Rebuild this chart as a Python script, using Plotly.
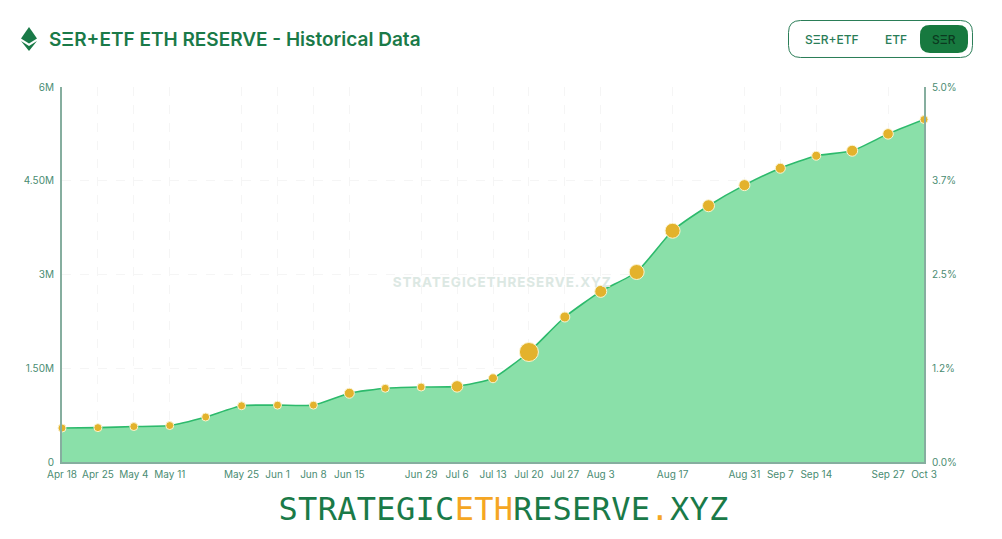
import plotly.graph_objects as go

# ---------- data ----------
dates = ["Apr 18", "Apr 25", "May 4", "May 11", "May 18", "May 25", "Jun 1", "Jun 8", "Jun 15",
         "Jun 22", "Jun 29", "Jul 6", "Jul 13", "Jul 20", "Jul 27", "Aug 3", "Aug 10", "Aug 17",
         "Aug 24", "Aug 31", "Sep 7", "Sep 14", "Sep 21", "Sep 27", "Oct 3"]
shown_dates = ["Apr 18", "Apr 25", "May 4", "May 11", "May 25", "Jun 1", "Jun 8", "Jun 15",
               "Jun 29", "Jul 6", "Jul 13", "Jul 20", "Jul 27", "Aug 3", "Aug 17", "Aug 31",
               "Sep 7", "Sep 14", "Sep 27", "Oct 3"]
reserve = [543000, 550000, 567000, 583000, 720000, 900000, 910000, 910000, 1100000,
           1180000, 1200000, 1210000, 1340000, 1760000, 2320000, 2730000, 3040000, 3700000,
           4100000, 4430000, 4700000, 4900000, 4980000, 5250000, 5480000]
pct_of_supply = [0.45, 0.46, 0.47, 0.49, 0.60, 0.75, 0.76, 0.76, 0.92,
                 0.98, 1.00, 1.01, 1.12, 1.47, 1.93, 2.28, 2.53, 3.08,
                 3.42, 3.69, 3.92, 4.08, 4.15, 4.38, 4.57]
bubble = [8, 8, 8, 8, 8, 8, 8, 8, 10, 8, 8, 11.5, 9, 19, 10, 12, 15, 15, 12, 11, 10, 9, 11, 10.5, 8]
left_ticks = [0, 1500000, 3000000, 4500000, 6000000]
left_labels = ["0", "1.50M", "3M", "4.50M", "6M"]
right_ticks = [0, 1.25, 2.5, 3.75, 5]
right_labels = ["0.0%", "1.2%", "2.5%", "3.7%", "5.0%"]

# ---------- geometry helpers for page furniture ----------
L, R, T, B = 62, 924, 87, 462
fx = lambda px: (px - L) / (R - L)
fy = lambda py: (B - py) / (B - T)
GREEN = "#1a7a48"
TICK = "#4a8c72"
AXIS = "#86ae9f"


def poly(points, **kw):
    path = "M " + " L ".join(f"{fx(x):.5f},{fy(y):.5f}" for x, y in points) + " Z"
    return dict(type="path", xref="paper", yref="paper", path=path, **kw)


def rrect(x0, y0, x1, y1, r):
    a, b, c, d = fx(x0), fx(x1), fy(y0), fy(y1)
    rx, ry = r / (R - L), r / (B - T)
    return (f"M {a+rx:.5f},{c:.5f} L {b-rx:.5f},{c:.5f} Q {b:.5f},{c:.5f} {b:.5f},{c-ry:.5f} "
            f"L {b:.5f},{d+ry:.5f} Q {b:.5f},{d:.5f} {b-rx:.5f},{d:.5f} L {a+rx:.5f},{d:.5f} "
            f"Q {a:.5f},{d:.5f} {a:.5f},{d+ry:.5f} L {a:.5f},{c-ry:.5f} Q {a:.5f},{c:.5f} {a+rx:.5f},{c:.5f} Z")


def label(text, px, py, font, xanchor="center"):
    return dict(text=text, xref="paper", yref="paper", x=fx(px), y=fy(py), showarrow=False,
                xanchor=xanchor, yanchor="middle", font=font)


fig = go.Figure()
fig.add_trace(go.Scatter(
    x=dates, y=reserve, mode="lines", fill="tozeroy", fillcolor="#8ae0a9",
    line=dict(color="#2dba6c", width=1.6, shape="spline", smoothing=0.55),
    cliponaxis=False, showlegend=False,
))
fig.add_trace(go.Scatter(
    x=dates, y=reserve, mode="markers",
    marker=dict(size=bubble, color="#e3b22c", opacity=1, line=dict(color="#fbf3d0", width=1)),
    cliponaxis=False, showlegend=False,
))
fig.add_trace(go.Scatter(
    x=dates, y=pct_of_supply, yaxis="y2", mode="lines", line=dict(width=0),
    hoverinfo="skip", showlegend=False, opacity=0,
))

tickfont = dict(family="Inter", size=10, color=TICK)
grid = dict(showgrid=True, gridcolor="#f5f5f5", gridwidth=1, griddash="dash")
fig.update_layout(
    width=1002, height=539, margin=dict(l=L, r=1002 - R, t=T, b=539 - B),
    paper_bgcolor="white", plot_bgcolor="white",
    xaxis=dict(type="category", categoryorder="array", categoryarray=dates, range=[0, 24],
               tickmode="array", tickvals=shown_dates, ticktext=shown_dates, tickangle=0,
               tickfont=tickfont, ticks="outside", ticklen=2, tickcolor="rgba(0,0,0,0)",
               showline=True, linecolor=AXIS, linewidth=2, zeroline=False, **grid),
    yaxis=dict(range=[0, 6000000], tickmode="array", tickvals=left_ticks, ticktext=left_labels,
               tickfont=tickfont, ticks="outside", ticklen=4, tickcolor="rgba(0,0,0,0)",
               showline=True, linecolor=AXIS, linewidth=2, zeroline=False, **grid),
    yaxis2=dict(range=[0, 5], overlaying="y", side="right", tickmode="array", tickvals=right_ticks,
                ticktext=right_labels, tickfont=tickfont, ticks="outside", ticklen=4,
                tickcolor="rgba(0,0,0,0)", showline=True, linecolor=AXIS, linewidth=2,
                showgrid=False, zeroline=False),
    shapes=[
        poly([(29, 27), (37, 38.5), (29, 43.5), (21, 38.5)], fillcolor=GREEN, line_width=0),
        poly([(21, 41), (29, 46), (37, 41), (29, 51)], fillcolor=GREEN, line_width=0),
        dict(type="path", xref="paper", yref="paper", path=rrect(788.5, 20.5, 972.5, 57.5, 12),
             fillcolor="white", line=dict(color="#2a7d57", width=1)),
        dict(type="path", xref="paper", yref="paper", path=rrect(920, 25, 968, 53, 10),
             fillcolor="#17793f", line_width=0),
    ],
    annotations=[
        label("SΞR+ETF ETH RESERVE - Historical Data", 46.5, 39,
              dict(family="Inter", size=19, color=GREEN, weight=600), xanchor="left"),
        label("SΞR+ETF", 832, 39, dict(family="Inter", size=12, color="#2a7d57", weight=500)),
        label("ETF", 896, 39, dict(family="Inter", size=12, color="#2a7d57", weight=500)),
        label("SΞR", 944, 39, dict(family="Inter", size=12, color="#0b3a20", weight=500)),
        label("STRATEGICETHRESERVE.XYZ", 502, 282,
              dict(family="Inter", size=13.5, color="#dce8e3", weight=700)),
        label('STRATEGIC<span style="color:#f5a623">ETH</span>RESERVE'
              '<span style="color:#f5a623">.</span>XYZ', 503, 509,
              dict(family="DejaVu Sans Mono", size=32, color=GREEN, weight=400)),
    ],
)

spacing_js = """
document.body.style.margin = '0';
document.documentElement.style.overflow = 'hidden';
document.querySelectorAll('.annotation-text').forEach(function (t) {
  if (t.textContent === 'STRATEGICETHRESERVE.XYZ') {
    t.style.letterSpacing = t.querySelector('tspan') ? '0.3px' : '0.9px';
  }
});
"""
fig.write_html("out.html", post_script=spacing_js, config=dict(displayModeBar=False))
